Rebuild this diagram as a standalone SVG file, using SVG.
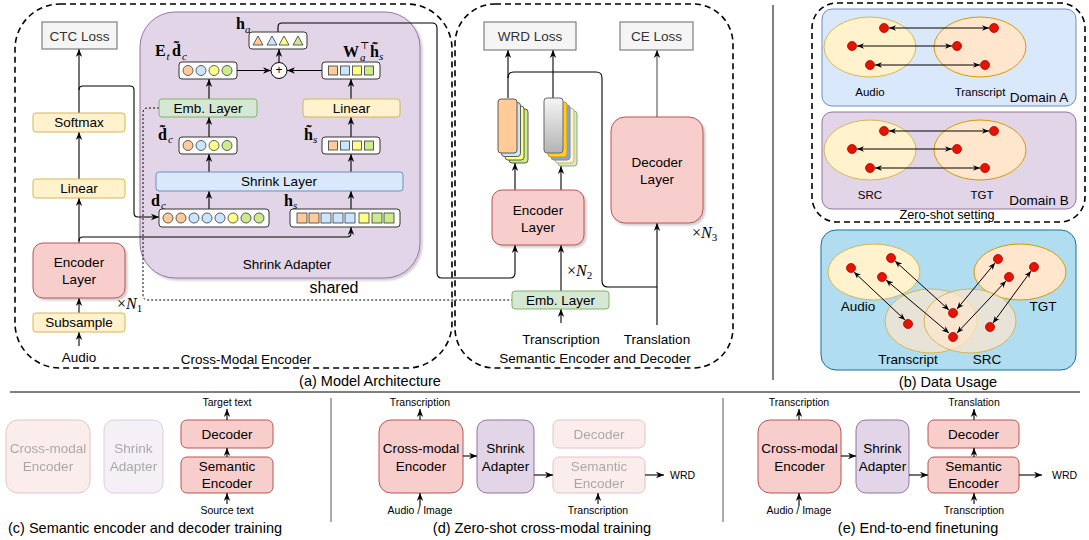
<svg xmlns="http://www.w3.org/2000/svg" width="1089" height="540" viewBox="0 0 1089 540">
<defs>
<style>
.t{font-family:"Liberation Sans",Arial,sans-serif;font-size:13.5px;fill:#000;text-anchor:middle;dominant-baseline:central}
.g{fill:#333}
.sm{font-size:10.5px}
.cap{font-size:14.5px}
.lbl{font-size:11.5px}
.m{font-family:"Liberation Serif","DejaVu Serif",serif;font-weight:bold;font-size:16px;fill:#000}
.ms{font-family:"Liberation Serif","DejaVu Serif",serif;font-style:italic;font-weight:normal;font-size:11px;fill:#000}
.mi{font-family:"Liberation Serif","DejaVu Serif",serif;font-size:16px;fill:#000}
.ln{fill:none;stroke:#000;stroke-width:1.1}
.ar{fill:none;stroke:#000;stroke-width:1.1;marker-end:url(#ah)}
.ar2{fill:none;stroke:#000;stroke-width:1;marker-end:url(#ah2);marker-start:url(#ah2)}
.dash{fill:none;stroke:#000;stroke-width:1.6;stroke-dasharray:6 4}
.loss{fill:#f5f5f5;stroke:#666}
.yel{fill:#fff2cc;stroke:#d6b656}
.red{fill:#f8cecc;stroke:#b85450}
.grn{fill:#d5e8d4;stroke:#82b366}
.blu{fill:#dae8fc;stroke:#6c8ebf}
.pur{fill:#e1d5e7;stroke:#9673a6}
.vec{fill:#fff;stroke:#333}
.c1{fill:#ffcc99;stroke:#36393d;stroke-width:0.8}
.c2{fill:#cce5ff;stroke:#36393d;stroke-width:0.8}
.c3{fill:#ffff88;stroke:#36393d;stroke-width:0.8}
.c4{fill:#cdeb8b;stroke:#36393d;stroke-width:0.8}
.dot{fill:#e51400;stroke:#b20000;stroke-width:0.8}
.ey{fill:#fff2cc;stroke:#d6b656}
.eo{fill:#ffe6cc;stroke:#d79b00}
.fade{opacity:0.35}
</style>
<marker id="ah" viewBox="0 0 10 10" refX="10" refY="5" markerWidth="8" markerHeight="8" markerUnits="userSpaceOnUse" orient="auto-start-reverse"><path d="M0,1 L10,5 L0,9 L3,5 z" fill="#000"/></marker>
<marker id="ah2" viewBox="0 0 10 10" refX="10" refY="5" markerWidth="7" markerHeight="7" markerUnits="userSpaceOnUse" orient="auto-start-reverse"><path d="M0,1 L10,5 L0,9 L3,5 z" fill="#000"/></marker>
<linearGradient id="gray" x1="0" y1="0" x2="0" y2="1"><stop offset="0" stop-color="#f5f5f5"/><stop offset="1" stop-color="#b3b3b3"/></linearGradient>
<filter id="sh" x="-10%" y="-10%" width="130%" height="130%"><feDropShadow dx="2" dy="2" stdDeviation="1.2" flood-color="#000" flood-opacity="0.2"/></filter>
</defs>
<rect width="1089" height="540" fill="#fff"/>

<!-- Region frames -->
<g id="frames">
<rect x="15" y="4" width="437" height="364" rx="45" class="dash"/>
<rect x="455" y="4" width="278" height="364" rx="40" class="dash"/>
<line x1="773" y1="5" x2="773" y2="380" stroke="#000" stroke-width="1"/>
<line x1="10" y1="392" x2="1080" y2="392" stroke="#000" stroke-width="1"/>
<line x1="331" y1="398" x2="331" y2="522" stroke="#555" stroke-width="1"/>
<line x1="723" y1="398" x2="723" y2="522" stroke="#555" stroke-width="1"/>
</g>

<!-- Shrink adapter background -->
<g id="shrink-adapter">
<rect x="140" y="12" width="280" height="266" rx="35" class="pur" filter="url(#sh)"/>
<text class="t" x="287" y="264">Shrink Adapter</text>
<text class="t" x="334" y="287" style="font-size:16px">shared</text>
</g>

<!-- Connectors -->
<g id="connectors">
<path class="ar" d="M79,113 L79,49"/>
<path class="ar" d="M79,90 Q79,86 83,86 L130,86 Q134,86 134,90 L134,213 Q134,217 138,217 L159,217"/>
<path class="ar" d="M79,179 L79,132"/>
<path class="ar" d="M79,243 L79,198"/>
<path class="ar" d="M79,241 Q79,237 83,237 L347,237 Q351,237 351,233 L351,227"/>
<path class="ar" d="M79,313 L79,298"/>
<path class="ar" d="M79,346 L79,332"/>
<path class="ar" d="M209,209 L209,191"/>
<path class="ar" d="M351,209 L351,191"/>
<path class="ar" d="M209,172 L209,154"/>
<path class="ar" d="M209,137 L209,117"/>
<path class="ar" d="M209,99 L209,79"/>
<path class="ar" d="M351,172 L351,154"/>
<path class="ar" d="M351,137 L351,117"/>
<path class="ar" d="M351,99 L351,79"/>
<path class="ar" d="M237,70.5 L271,70.5"/>
<path class="ar" d="M322,70.5 L287,70.5"/>
<path class="ar" d="M279,62.5 L279,49"/>
<path class="ar" d="M278,32 L278,27 Q278,23 282,23 L432,23 Q437,23 437,28 L437,273 Q437,278 442,278 L510,278 Q515,278 515,273 L515,245"/>
<path fill="none" stroke="#000" stroke-width="1" stroke-dasharray="2 2" d="M159,108 L148,108 Q143,108 143,113 L143,295 Q143,300 148,300 L512,300"/>
<path class="ar" d="M508,98 L508,50"/>
<path class="ar" d="M553,98 L553,50"/>
<path class="ln" d="M508,78 Q508,72 514,72 L596,72 Q602,72 602,78 L602,281 Q602,287 608,287 L657,287"/>
<path class="ar" d="M515,190 L515,163"/>
<path class="ar" d="M561,190 L561,166"/>
<path class="ar" d="M561,291 L561,245"/>
<path class="ar" d="M561,323 L561,309"/>
<path class="ar" d="M657,325 L657,223"/>
<path class="ar" d="M657,117 L657,50" style="stroke:#555"/>
</g>

<!-- Left column -->
<g id="ctc-loss"><rect x="42" y="22" width="75" height="27" class="loss"/><text class="t g" x="79.5" y="36">CTC Loss</text></g>
<g id="softmax"><rect x="33" y="113" width="92" height="19" rx="3" class="yel"/><text class="t" x="79" y="122.5">Softmax</text></g>
<g id="linear-left"><rect x="33" y="179" width="92" height="19" rx="3" class="yel"/><text class="t" x="79" y="188.5">Linear</text></g>
<g id="encoder-layer-1"><rect x="33" y="243" width="92" height="55" rx="10" class="red" filter="url(#sh)"/><text class="t" x="79" y="262">Encoder</text><text class="t" x="79" y="279">Layer</text></g>
<g id="subsample"><rect x="33" y="313" width="92" height="19" rx="3" class="yel"/><text class="t" x="79" y="322.5">Subsample</text></g>
<text class="t" x="79" y="357">Audio</text>
<text class="mi" x="117" y="309">×<tspan font-style="italic">N</tspan><tspan font-size="11" dy="3">1</tspan></text>
<text class="t" x="246" y="359">Cross-Modal Encoder</text>
<text class="t cap" x="370" y="381">(a) Model Architecture</text>

<!-- Shrink adapter internals -->
<g id="shrink-layer"><rect x="156" y="172" width="247" height="19" rx="3" class="blu"/><text class="t" x="279" y="181.5">Shrink Layer</text></g>
<g id="dc">
<rect x="159" y="209" width="110" height="18" rx="3" class="vec"/>
<circle cx="168" cy="218" r="5" class="c1"/><circle cx="181" cy="218" r="5" class="c1"/><circle cx="194" cy="218" r="5" class="c2"/><circle cx="207" cy="218" r="5" class="c2"/><circle cx="220" cy="218" r="5" class="c2"/><circle cx="233" cy="218" r="5" class="c3"/><circle cx="246" cy="218" r="5" class="c4"/><circle cx="259" cy="218" r="5" class="c4"/>
<text class="m" x="151" y="206">d</text><text class="ms" x="161" y="209">c</text>
</g>
<g id="hs">
<rect x="290" y="209" width="110" height="18" rx="3" class="vec"/>
<rect x="297" y="213" width="10" height="10" class="c1"/><rect x="309" y="213" width="10" height="10" class="c1"/><rect x="321" y="213" width="10" height="10" class="c2"/><rect x="333" y="213" width="10" height="10" class="c2"/><rect x="345" y="213" width="10" height="10" class="c2"/><rect x="359" y="213" width="10" height="10" class="c3"/><rect x="372" y="213" width="10" height="10" class="c4"/><rect x="384" y="213" width="10" height="10" class="c4"/>
<text class="m" x="284" y="206">h</text><text class="ms" x="293" y="209">s</text>
</g>
<g id="dc-tilde">
<rect x="179" y="137" width="58" height="17" rx="3" class="vec"/>
<circle cx="188" cy="145.5" r="5" class="c1"/><circle cx="201" cy="145.5" r="5" class="c2"/><circle cx="214" cy="145.5" r="5" class="c3"/><circle cx="227" cy="145.5" r="5" class="c4"/>
<text class="m" x="158" y="140">d̃</text><text class="ms" x="168" y="143">c</text>
</g>
<g id="emb-layer-1"><rect x="159" y="99" width="98" height="18" rx="3" class="grn"/><text class="t" x="208" y="108">Emb. Layer</text></g>
<g id="et-dc">
<rect x="179" y="62" width="58" height="17" rx="3" class="vec"/>
<circle cx="188" cy="70.5" r="5" class="c1"/><circle cx="201" cy="70.5" r="5" class="c2"/><circle cx="214" cy="70.5" r="5" class="c3"/><circle cx="227" cy="70.5" r="5" class="c4"/>
<text class="m" x="155" y="56">E</text><text class="ms" x="166.5" y="59.5">t</text><text class="m" x="172" y="56">d̃</text><text class="ms" x="182" y="59.5">c</text>
</g>
<g id="hs-tilde">
<rect x="322" y="137" width="58" height="17" rx="3" class="vec"/>
<rect x="328.5" y="141" width="9" height="9" class="c1"/><rect x="340.5" y="141" width="9" height="9" class="c2"/><rect x="352.5" y="141" width="9" height="9" class="c3"/><rect x="364.5" y="141" width="9" height="9" class="c4"/>
<text class="m" x="304" y="140">h̃</text><text class="ms" x="313" y="143">s</text>
</g>
<g id="linear-right"><rect x="303" y="99" width="97" height="18" rx="3" class="yel"/><text class="t" x="351.5" y="108">Linear</text></g>
<g id="wa-hs">
<rect x="322" y="62" width="58" height="17" rx="3" class="vec"/>
<rect x="328.5" y="66" width="9" height="9" class="c1"/><rect x="340.5" y="66" width="9" height="9" class="c2"/><rect x="352.5" y="66" width="9" height="9" class="c3"/><rect x="364.5" y="66" width="9" height="9" class="c4"/>
<text class="m" x="343" y="57">W</text>
<text class="ms" x="360" y="49" style="font-style:normal;font-size:10px">⊤</text>
<text class="ms" x="360" y="61">a</text>
<text class="m" x="370" y="57">h̃</text><text class="ms" x="379" y="60">s</text>
</g>
<g id="plus"><circle cx="279" cy="70.5" r="8" fill="#fff" stroke="#000"/><text class="t" x="279" y="70" style="font-size:12px">+</text></g>
<g id="ha">
<rect x="249" y="32" width="58" height="17" rx="3" class="vec"/>
<path d="M253,45 L258,36 L263,45 Z" class="c1"/><path d="M267,45 L272,36 L277,45 Z" class="c2"/><path d="M279,45 L284,36 L289,45 Z" class="c3"/><path d="M293,45 L298,36 L303,45 Z" class="c4"/>
<text class="m" x="236" y="29">h</text><text class="ms" x="245" y="32.5">a</text>
</g>

<!-- Semantic encoder and decoder -->
<g id="wrd-loss"><rect x="484" y="22" width="92" height="28" class="loss"/><text class="t g" x="530" y="36">WRD Loss</text></g>
<g id="ce-loss"><rect x="620" y="22" width="73" height="28" class="loss"/><text class="t g" x="656.5" y="36">CE Loss</text></g>
<g id="stack-1">
<rect x="509" y="109" width="19" height="54" rx="3" class="c4"/>
<rect x="505" y="106" width="19" height="54" rx="3" class="c3"/>
<rect x="501.5" y="102.5" width="19" height="54" rx="3" class="c2"/>
<rect x="498" y="99" width="19" height="54" rx="3" class="c1"/>
</g>
<g id="stack-2">
<rect x="558" y="111" width="19" height="55" rx="3" fill="#d5e8d4" stroke="#82b366"/>
<rect x="555" y="108" width="19" height="55" rx="3" fill="#fff2cc" stroke="#d6b656"/>
<rect x="551" y="105" width="19" height="55" rx="3" fill="#7ea6e0" stroke="#6c8ebf"/>
<rect x="548" y="102" width="19" height="55" rx="3" fill="#ffcd28" stroke="#d79b00"/>
<rect x="544" y="98" width="19" height="55" rx="3" fill="url(#gray)" stroke="#666"/>
</g>
<g id="encoder-layer-2"><rect x="492" y="190" width="92" height="55" rx="10" class="red" filter="url(#sh)"/><text class="t" x="538" y="210">Encoder</text><text class="t" x="538" y="227">Layer</text></g>
<g id="decoder-layer"><rect x="611" y="117" width="92" height="106" rx="14" class="red" filter="url(#sh)"/><text class="t" x="657" y="162">Decoder</text><text class="t" x="657" y="179">Layer</text></g>
<g id="emb-layer-2"><rect x="512" y="291" width="97" height="18" rx="3" class="grn"/><text class="t" x="560.5" y="300">Emb. Layer</text></g>
<text class="mi" x="567" y="276">×<tspan font-style="italic">N</tspan><tspan font-size="11" dy="3">2</tspan></text>
<text class="mi" x="692" y="238">×<tspan font-style="italic">N</tspan><tspan font-size="11" dy="3">3</tspan></text>
<text class="t" x="561" y="339">Transcription</text>
<text class="t" x="657" y="339">Translation</text>
<text class="t" x="595" y="358">Semantic Encoder and Decoder</text>

<!-- Data usage -->
<g id="zero-shot">
<rect x="812" y="3" width="273" height="219" rx="25" class="dash"/>
<text class="t" x="947" y="215" style="font-size:12.7px">Zero-shot setting</text>
</g>
<g id="domain-a">
<rect x="822" y="9" width="254" height="97" rx="10" class="blu"/>
<ellipse cx="870" cy="47" rx="46" ry="30" class="ey"/>
<ellipse cx="980" cy="47" rx="46" ry="30" class="eo"/>
<path class="ar2" d="M889,28 L989,28"/><path class="ar2" d="M857,46 L952,46"/><path class="ar2" d="M875,65 L980,65"/>
<circle cx="884" cy="28" r="4.5" class="dot"/><circle cx="852" cy="46" r="4.5" class="dot"/><circle cx="870" cy="65" r="4.5" class="dot"/>
<circle cx="994" cy="28" r="4.5" class="dot"/><circle cx="957" cy="46" r="4.5" class="dot"/><circle cx="985" cy="65" r="4.5" class="dot"/>
<text class="t lbl" x="870" y="92">Audio</text><text class="t lbl" x="980" y="92">Transcript</text><text class="t" x="1039" y="97">Domain A</text>
</g>
<g id="domain-b">
<rect x="822" y="112" width="254" height="97" rx="10" class="pur"/>
<ellipse cx="870" cy="150" rx="46" ry="30" class="ey"/>
<ellipse cx="980" cy="150" rx="46" ry="30" class="eo"/>
<path class="ar2" d="M889,131 L989,131"/><path class="ar2" d="M857,149 L952,149"/><path class="ar2" d="M875,168 L980,168"/>
<circle cx="884" cy="131" r="4.5" class="dot"/><circle cx="852" cy="149" r="4.5" class="dot"/><circle cx="870" cy="168" r="4.5" class="dot"/>
<circle cx="994" cy="131" r="4.5" class="dot"/><circle cx="957" cy="149" r="4.5" class="dot"/><circle cx="985" cy="168" r="4.5" class="dot"/>
<text class="t lbl" x="870" y="195">SRC</text><text class="t lbl" x="982" y="195">TGT</text><text class="t" x="1039" y="200">Domain B</text>
</g>
<g id="data-all">
<rect x="821" y="230" width="255" height="140" rx="15" fill="#b1ddf0" stroke="#10739e"/>
<ellipse cx="874" cy="272" rx="46" ry="28" class="ey"/>
<ellipse cx="1020" cy="272" rx="46" ry="28" class="eo"/>
<ellipse cx="931" cy="321" rx="46" ry="32" fill="#ffe6cc" fill-opacity="0.7" stroke="#d6b656"/>
<ellipse cx="970" cy="321" rx="46" ry="32" fill="#ffe6cc" fill-opacity="0.7" stroke="#d6b656"/>
<path class="ar2" d="M854,272 L905,320"/>
<path class="ar2" d="M895,261 L949,310"/>
<path class="ar2" d="M886,280 L949,333"/>
<path class="ar2" d="M995,263 L957,309"/>
<path class="ar2" d="M1006,281 L957,333"/>
<path class="ar2" d="M1031,271 L993,323"/>
<circle cx="851" cy="268" r="4.5" class="dot"/><circle cx="891" cy="258" r="4.5" class="dot"/><circle cx="882" cy="277" r="4.5" class="dot"/>
<circle cx="998" cy="259" r="4.5" class="dot"/><circle cx="1009" cy="277" r="4.5" class="dot"/><circle cx="1034" cy="267" r="4.5" class="dot"/>
<circle cx="908" cy="324" r="4.5" class="dot"/><circle cx="953" cy="313" r="4.5" class="dot"/><circle cx="953" cy="337" r="4.5" class="dot"/><circle cx="990" cy="327" r="4.5" class="dot"/>
<text class="t" x="858" y="306">Audio</text><text class="t" x="1043" y="306">TGT</text><text class="t" x="908" y="359">Transcript</text><text class="t" x="987" y="359">SRC</text>
</g>
<text class="t cap" x="948" y="382">(b) Data Usage</text>

<!-- (c) -->
<g id="c-cm" class="fade"><rect x="6" y="420" width="84" height="73" rx="12" class="red"/><text class="t" x="48" y="448">Cross-modal</text><text class="t" x="48" y="466">Encoder</text></g>
<g id="c-sa" class="fade"><rect x="104" y="420" width="59" height="73" rx="10" class="pur"/><text class="t" x="133.5" y="448">Shrink</text><text class="t" x="133.5" y="466">Adapter</text></g>
<g id="c-dec"><rect x="181" y="420" width="92" height="28" rx="6" class="red"/><text class="t" x="227" y="434">Decoder</text></g>
<g id="c-sem"><rect x="181" y="457" width="92" height="36" rx="6" class="red"/><text class="t" x="227" y="466.5">Semantic</text><text class="t" x="227" y="483">Encoder</text></g>
<g id="c-conn"><path class="ar" d="M227,420 L227,409"/><path class="ar" d="M227,457 L227,448"/><path class="ar" d="M227,504 L227,493"/></g>
<text class="t sm" x="227" y="402">Target text</text>
<text class="t sm" x="227" y="510">Source text</text>
<text class="t cap" x="145" y="528">(c) Semantic encoder and decoder training</text>

<!-- (d) -->
<g id="d-cm"><rect x="379" y="420" width="84" height="73" rx="12" class="red"/><text class="t" x="421" y="448">Cross-modal</text><text class="t" x="421" y="466">Encoder</text></g>
<g id="d-sa"><rect x="477" y="420" width="57" height="73" rx="10" class="pur"/><text class="t" x="505.5" y="448">Shrink</text><text class="t" x="505.5" y="466">Adapter</text></g>
<g id="d-dec" class="fade"><rect x="553" y="420" width="92" height="28" rx="6" class="red"/><text class="t" x="599" y="434">Decoder</text></g>
<g id="d-sem" class="fade"><rect x="553" y="457" width="92" height="36" rx="6" class="red"/><text class="t" x="599" y="466.5">Semantic</text><text class="t" x="599" y="483">Encoder</text></g>
<g id="d-conn"><path class="ar" d="M420,420 L420,409"/><path class="ar" d="M420,506 L420,493"/><path class="ar" d="M463,456 L477,456"/><path class="ar" d="M534,475 L553,475"/><path class="ar" d="M645,475 L664,475"/><path class="ar" d="M598,504 L598,493"/></g>
<text class="t sm" x="420" y="402">Transcription</text>
<text class="t sm" x="420" y="510">Audio / Image</text>
<text class="t sm" x="598" y="510">Transcription</text>
<text class="t sm" x="670" y="475" style="text-anchor:start">WRD</text>
<text class="t cap" x="542" y="528">(d) Zero-shot cross-modal training</text>

<!-- (e) -->
<g id="e-cm"><rect x="758" y="420" width="83" height="73" rx="12" class="red"/><text class="t" x="799.5" y="448">Cross-modal</text><text class="t" x="799.5" y="466">Encoder</text></g>
<g id="e-sa"><rect x="856" y="420" width="53" height="73" rx="10" class="pur"/><text class="t" x="882.5" y="448">Shrink</text><text class="t" x="882.5" y="466">Adapter</text></g>
<g id="e-dec"><rect x="928" y="420" width="91" height="28" rx="6" class="red"/><text class="t" x="973.5" y="434">Decoder</text></g>
<g id="e-sem"><rect x="928" y="457" width="91" height="36" rx="6" class="red"/><text class="t" x="973.5" y="466.5">Semantic</text><text class="t" x="973.5" y="483">Encoder</text></g>
<g id="e-conn"><path class="ar" d="M799,420 L799,409"/><path class="ar" d="M974,420 L974,409"/><path class="ar" d="M974,457 L974,448"/><path class="ar" d="M799,506 L799,493"/><path class="ar" d="M974,504 L974,493"/><path class="ar" d="M841,456 L856,456"/><path class="ar" d="M909,475 L928,475"/><path class="ar" d="M1019,475 L1042,475"/></g>
<text class="t sm" x="799" y="402">Transcription</text>
<text class="t sm" x="974" y="402">Translation</text>
<text class="t sm" x="799" y="510">Audio / Image</text>
<text class="t sm" x="974" y="510">Transcription</text>
<text class="t sm" x="1052" y="475" style="text-anchor:start">WRD</text>
<text class="t cap" x="918" y="528">(e) End-to-end finetuning</text>
</svg>
